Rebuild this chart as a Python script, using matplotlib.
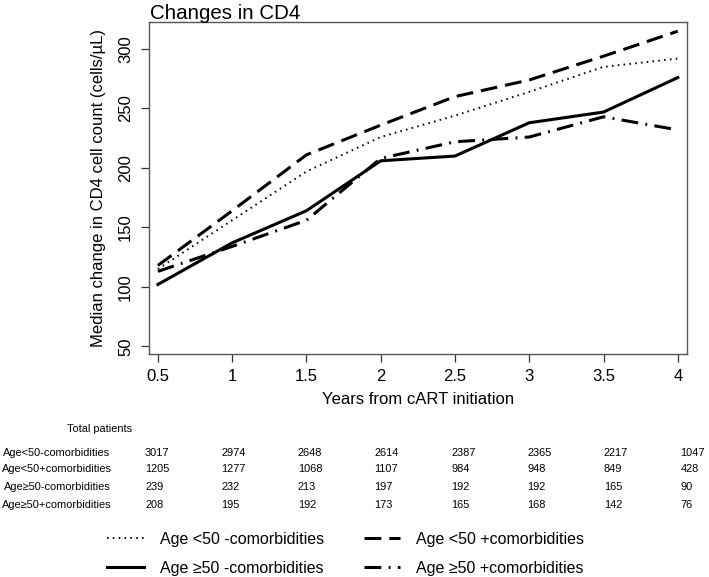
import matplotlib
matplotlib.use("Agg")
import matplotlib.pyplot as plt

plt.rcParams['font.family'] = ['Liberation Sans', 'DejaVu Sans']

years = [0.5, 1, 1.5, 2, 2.5, 3, 3.5, 4]

# median change in CD4 (cells/uL)
lt50_no = [115, 156, 197, 226, 244, 264, 285, 292]
lt50_yes = [118, 164, 211, 236, 260, 274, 294, 315]
ge50_no = [102, 137, 164, 206, 210, 238, 247, 276]
ge50_yes = [113, 134, 156, 208, 222, 226, 243, 232]

series_labels = ['Age <50 -comorbidities', 'Age <50 +comorbidities',
                 'Age \u226550 -comorbidities', 'Age \u226550 +comorbidities']

# patients at risk table
row_labels = ['Age<50-comorbidities', 'Age<50+comorbidities',
              'Age\u226550-comorbidities', 'Age\u226550+comorbidities']
n_lt50_no = [3017, 2974, 2648, 2614, 2387, 2365, 2217, 1047]
n_lt50_yes = [1205, 1277, 1068, 1107, 984, 948, 849, 428]
n_ge50_no = [239, 232, 213, 197, 192, 192, 165, 90]
n_ge50_yes = [208, 195, 192, 173, 165, 168, 142, 76]

W, H = 709, 577
fig = plt.figure(figsize=(W / 100, H / 100), dpi=100)
ax = fig.add_axes([149 / W, 1 - 354 / H, (686.7 - 149) / W, (354 - 21.7) / H])

lw = 2.2
l1, = ax.plot(years, lt50_no, color='black', lw=1.4, linestyle=(0, (0.8, 2.2)),
              label=series_labels[0])
l2, = ax.plot(years, lt50_yes, color='black', lw=lw, linestyle=(0, (5.5, 2.6)),
              label=series_labels[1])
l3, = ax.plot(years, ge50_no, color='black', lw=lw, linestyle='-',
              label=series_labels[2])
l4, = ax.plot(years, ge50_yes, color='black', lw=lw,
              linestyle=(0, (5.5, 2.4, 0.6, 2.4)), label=series_labels[3])

ax.set_xlim(0.44, 4.06)
ax.set_ylim(43.5, 323)
ax.set_xticks(years)
ax.set_xticklabels(['0.5', '1', '1.5', '2', '2.5', '3', '3.5', '4'])
ax.set_yticks([50, 100, 150, 200, 250, 300])
for t in ax.get_yticklabels():
    t.set_rotation(90)
    t.set_va('center')
ax.tick_params(axis='both', direction='out', length=5.5, width=0.9,
               colors='#333333', labelsize=12, labelcolor='black')
ax.tick_params(axis='x', pad=5)
ax.tick_params(axis='y', pad=6)
for s in ax.spines.values():
    s.set_color('#555555')
    s.set_linewidth(1.0)

ax.set_xlabel('Years from cART initiation', fontsize=12, labelpad=6)
ax.set_ylabel('Median change in CD4 cell count (cells/\u00b5L)', fontsize=12,
              labelpad=9)

fig.text(150 / W, 1 - 19 / H, 'Changes in CD4', fontsize=14.8, va='baseline',
         ha='left')

# number at risk table
tsize = 7.9
fig.text(100 / W, 1 - 429 / H, 'Total patients', fontsize=tsize, ha='center',
         va='center')
counts = [n_lt50_no, n_lt50_yes, n_ge50_no, n_ge50_yes]
row_y = [452.7, 469.5, 487, 504.5]
for lab, vals, yy in zip(row_labels, counts, row_y):
    fig.text(57 / W, 1 - yy / H, lab, fontsize=tsize, ha='center', va='center')
    for i, v in enumerate(vals):
        fig.text((145 + i * 76.5) / W, 1 - yy / H, str(v), fontsize=tsize,
                 ha='left', va='center')

fig.legend(handles=[l1, l3, l2, l4], ncol=2, frameon=False, fontsize=11.5,
           loc='upper left', bbox_to_anchor=(107 / W, 1 - 532 / H),
           borderpad=0, borderaxespad=0, handlelength=2.3, handletextpad=1.0,
           columnspacing=2.5, labelspacing=0.85)

fig.savefig('out.png', dpi=100)
